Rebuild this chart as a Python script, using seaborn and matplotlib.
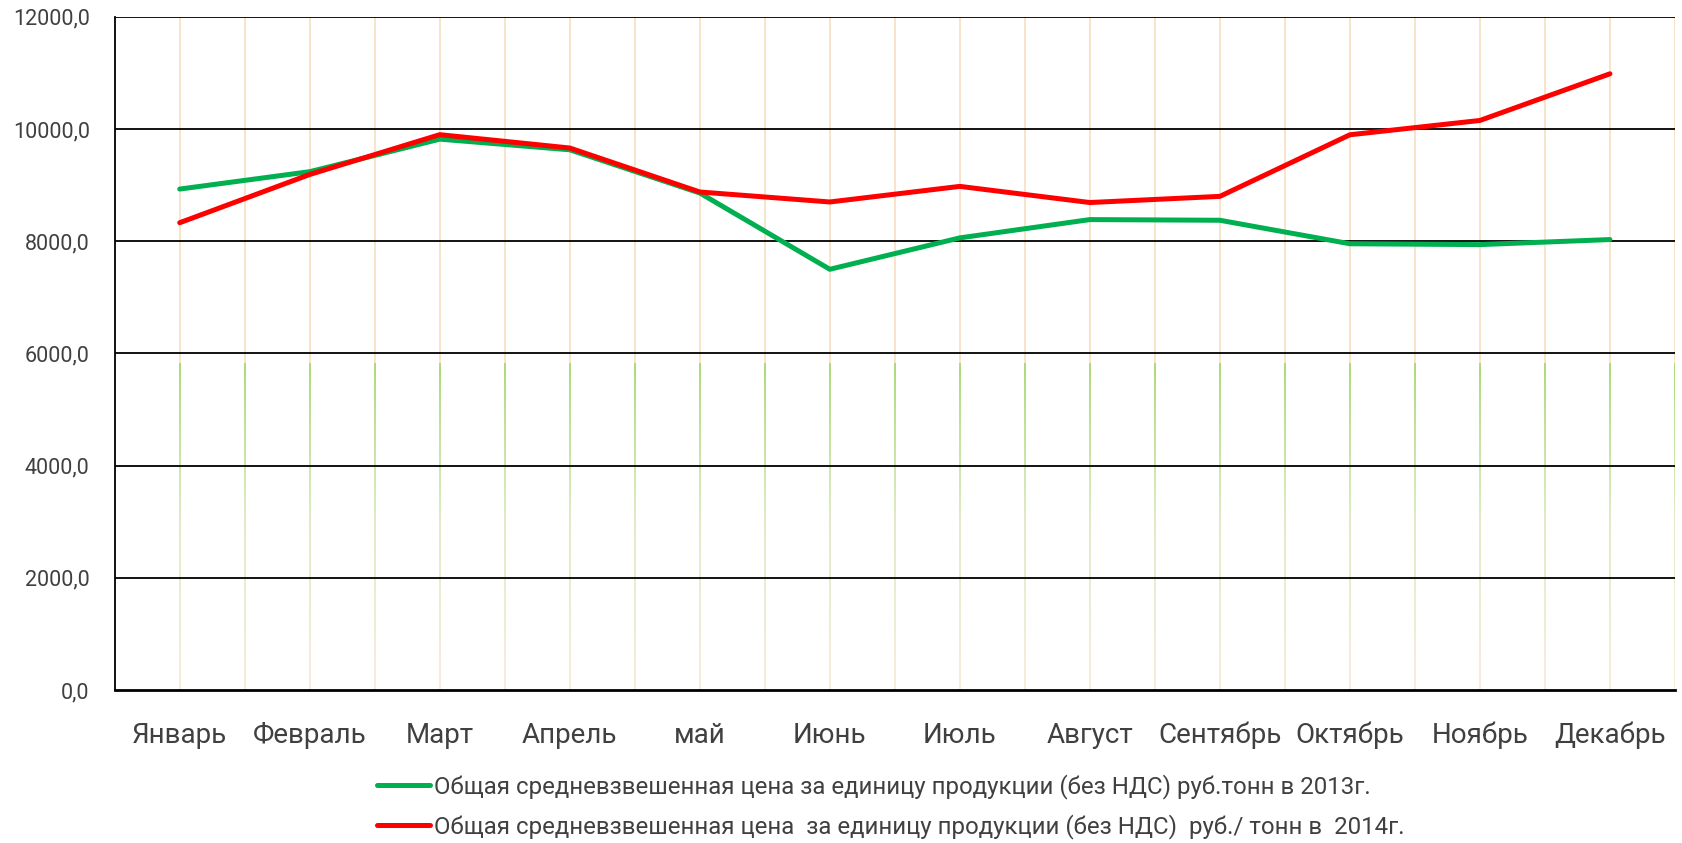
import numpy as np
import pandas as pd
import matplotlib.pyplot as plt
import seaborn as sns
from matplotlib.lines import Line2D
from matplotlib.colors import LinearSegmentedColormap
from matplotlib.ticker import FuncFormatter

# Data
months = ['Январь', 'Февраль', 'Март', 'Апрель', 'май', 'Июнь', 'Июль',
          'Август', 'Сентябрь', 'Октябрь', 'Ноябрь', 'Декабрь']
price_2013 = [8930, 9240, 9820, 9630, 8860, 7500, 8060, 8386, 8374, 7955, 7940, 8030]
price_2014 = [8330, 9190, 9900, 9662, 8878, 8700, 8978, 8690, 8800, 9898, 10153, 10985]
label_2013 = 'Общая средневзвешенная цена за единицу продукции (без НДС) руб.тонн в 2013г.'
label_2014 = 'Общая средневзвешенная цена  за единицу продукции (без НДС)  руб./ тонн в  2014г.'
y_ticks = [0, 2000, 4000, 6000, 8000, 10000, 12000]

df = pd.DataFrame({
    'month': list(range(len(months))) * 2,
    'price': price_2013 + price_2014,
    'series': [label_2013] * len(months) + [label_2014] * len(months),
})

sns.set_style('white')
plt.rcParams['font.family'] = ['Roboto', 'DejaVu Sans']
text_color = '#404040'

fig = plt.figure(figsize=(16.82, 8.43), dpi=100)
ax = fig.add_axes([0.0682, 0.1815, 0.9276, 0.7985])

# vertical drop lines: light orange on top, green gradient below
xs = np.arange(0, len(months), 0.5)
split = 5830
ax.vlines(xs, split, 12000, colors='#F7DCB8', linewidth=1.1, zorder=1)
cmap = LinearSegmentedColormap.from_list('g', ['#F4E8D2', '#D9E6B8', '#92D050'])
levels = np.linspace(0, split, 60)
seg_x = np.repeat(xs, len(levels) - 1)
seg_lo = np.tile(levels[:-1], len(xs))
seg_hi = np.tile(levels[1:], len(xs))
seg_c = cmap(np.tile(levels[:-1] / split, len(xs)))
ax.vlines(seg_x, seg_lo, seg_hi, colors=seg_c, linewidth=1.1, zorder=1)

# horizontal gridlines
for v in y_ticks[1:]:
    ax.axhline(v, color='black', linewidth=1.3, zorder=2)

sns.lineplot(data=df, x='month', y='price', hue='series',
             palette=['#00B050', '#FF0000'], linewidth=3.6, sort=False,
             legend=False, ax=ax, zorder=3)

ax.set_xlim(-0.5, len(months) - 0.5)
ax.set_ylim(0, 12000)
ax.set_xticks(range(len(months)))
ax.set_xticklabels(months)
ax.set_yticks(y_ticks)
ax.yaxis.set_major_formatter(FuncFormatter(lambda v, p: f'{v:.1f}'.replace('.', ',')))
ax.tick_params(axis='x', length=0, pad=23, labelsize=20, labelcolor=text_color)
ax.tick_params(axis='y', length=0, pad=18, labelsize=15.5, labelcolor=text_color)
ax.set_xlabel('')
ax.set_ylabel('')

for s in ['top', 'right']:
    ax.spines[s].set_visible(False)
ax.spines['left'].set_color('black')
ax.spines['left'].set_linewidth(1.3)
ax.spines['bottom'].set_color('black')
ax.spines['bottom'].set_linewidth(2)

handles = [Line2D([], [], color='#00B050', lw=3.6, solid_capstyle='round'),
           Line2D([], [], color='#FF0000', lw=3.6, solid_capstyle='round')]
fig.legend(handles, [label_2013, label_2014], loc='upper left',
           bbox_to_anchor=(0.224, 0.082), frameon=False, fontsize=17.3,
           handlelength=2.2, handletextpad=0.18, labelspacing=0.65,
           borderpad=0, borderaxespad=0, labelcolor=text_color)

fig.savefig('out.png', dpi=100)
